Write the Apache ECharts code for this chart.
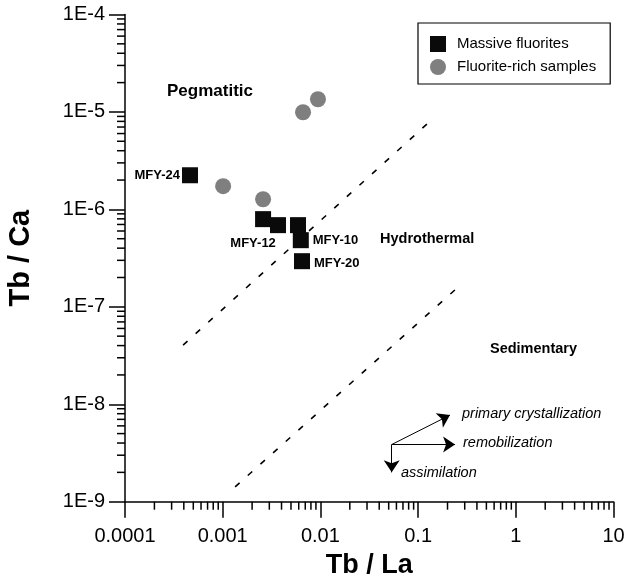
<!DOCTYPE html>
<html>
<head>
<meta charset="utf-8">
<script src="https://cdn.jsdelivr.net/npm/echarts@6/dist/echarts.min.js"></script>
<style>
  html, body { margin: 0; padding: 0; background: #fff; }
  #chart { width: 624px; height: 579px; }
</style>
</head>
<body>
<div id="chart"></div>
<script>
// axis limits and tick labels
const X_MIN = 0.0001, X_MAX = 10;
const Y_MIN = 1e-9, Y_MAX = 1e-4;
const xTickLabels = ['0.0001', '0.001', '0.01', '0.1', '1', '10'];
const yTickLabels = ['1E-9', '1E-8', '1E-7', '1E-6', '1E-5', '1E-4'];

// samples (Tb/La, Tb/Ca)
const massiveNames = ['MFY-24', 'MFY-12', '', '', 'MFY-10', 'MFY-20'];
const massiveX = [0.000463, 0.00259, 0.00368, 0.0059, 0.0063, 0.00648];
const massiveY = [2.24e-6, 7.94e-7, 6.89e-7, 6.89e-7, 4.83e-7, 2.94e-7];
const richX = [0.00101, 0.00259, 0.00664, 0.00944];
const richY = [1.73e-6, 1.27e-6, 9.93e-6, 1.35e-5];

// field boundaries (dashed)
const pegBoundary = [[3.93e-4, 4.05e-8], [0.126, 7.66e-6]];
const sedBoundary = [[1.34e-3, 1.42e-9], [0.256, 1.59e-7]];

// process arrows: origin, then tips
const arrowOrigin = [0.0537, 3.86e-9];
const arrowTips = [[0.212, 7.74e-9], [0.239, 3.86e-9], [0.0537, 2.0e-9]];

const FONT = '"Liberation Sans", Arial, sans-serif';

// minor ticks 2..9 within each decade
function minorTicks(lo, hi) {
  const out = [];
  for (let e = Math.round(Math.log10(lo)); e < Math.round(Math.log10(hi)); e++) {
    for (let k = 2; k <= 9; k++) out.push(k * Math.pow(10, e));
  }
  return out;
}
const xMinor = minorTicks(X_MIN, X_MAX);
const yMinor = minorTicks(Y_MIN, Y_MAX);

const labelPos = {
  'MFY-24': { position: 'left', distance: 2 },
  'MFY-12': { position: 'bottom', offset: [-10, 4], distance: 6 },
  'MFY-10': { position: 'right', distance: 4 },
  'MFY-20': { position: 'right', distance: 4, offset: [0, 2] }
};

const massiveData = massiveX.map((x, i) => {
  const name = massiveNames[i];
  const d = { value: [x, massiveY[i]], name: name };
  if (name) {
    d.label = Object.assign({ show: true, formatter: name }, labelPos[name]);
  }
  return d;
});
const richData = richX.map((x, i) => [x, richY[i]]);

const chart = echarts.init(document.getElementById('chart'));

const option = {
  animation: false,
  backgroundColor: '#fff',
  textStyle: { fontFamily: FONT },
  grid: { left: 125, right: 10.5, top: 14.5, bottom: 77.3, containLabel: false, outerBoundsMode: 'none' },
  legend: {
    orient: 'vertical',
    left: 418,
    top: 23,
    padding: [13, 14, 9, 12],
    itemGap: 7,
    itemWidth: 16,
    itemHeight: 16,
    borderColor: '#000',
    borderWidth: 1.2,
    textStyle: { fontSize: 15, color: '#000', fontFamily: FONT, padding: [0, 0, 0, 6] },
    data: [
      { name: 'Massive fluorites', icon: 'rect' },
      { name: 'Fluorite-rich samples', icon: 'circle' }
    ]
  },
  xAxis: {
    type: 'log',
    logBase: 10,
    min: X_MIN,
    max: X_MAX,
    name: 'Tb / La',
    nameLocation: 'middle',
    nameGap: 48,
    nameTextStyle: { fontSize: 27, fontWeight: 'bold', color: '#000', fontFamily: FONT },
    axisLine: { lineStyle: { color: '#000', width: 1.5 } },
    axisTick: { length: 16, lineStyle: { color: '#000', width: 1.5 } },
    axisLabel: {
      margin: 25, fontSize: 20, color: '#000', fontFamily: FONT,
      formatter: v => xTickLabels[Math.round(Math.log10(v)) + 4]
    },
    splitLine: { show: false }
  },
  yAxis: {
    type: 'log',
    logBase: 10,
    min: Y_MIN,
    max: Y_MAX,
    name: 'Tb / Ca',
    nameLocation: 'middle',
    nameGap: 90,
    nameTextStyle: { fontSize: 29, fontWeight: 'bold', color: '#000', fontFamily: FONT },
    axisLine: { lineStyle: { color: '#000', width: 1.5 } },
    axisTick: { length: 16, lineStyle: { color: '#000', width: 1.5 } },
    axisLabel: {
      margin: 20, fontSize: 20, color: '#000', fontFamily: FONT,
      formatter: v => yTickLabels[Math.round(Math.log10(v)) + 9]
    },
    splitLine: { show: false }
  },
  series: [
    {
      name: 'xMinor',
      type: 'custom',
      silent: true,
      data: xMinor.map(v => [v, Y_MIN]),
      renderItem: (params, api) => {
        const p = api.coord([api.value(0), api.value(1)]);
        return { type: 'line', shape: { x1: p[0], y1: p[1], x2: p[0], y2: p[1] + 8 },
          style: { stroke: '#000', lineWidth: 1.5 } };
      }
    },
    {
      name: 'yMinor',
      type: 'custom',
      silent: true,
      data: yMinor.map(v => [X_MIN, v]),
      renderItem: (params, api) => {
        const p = api.coord([api.value(0), api.value(1)]);
        return { type: 'line', shape: { x1: p[0] - 8, y1: p[1], x2: p[0], y2: p[1] },
          style: { stroke: '#000', lineWidth: 1.5 } };
      }
    },
    {
      name: 'pegBoundary',
      type: 'line',
      silent: true,
      symbol: 'none',
      data: pegBoundary,
      lineStyle: { color: '#000', width: 1.6, type: [6, 11] }
    },
    {
      name: 'sedBoundary',
      type: 'line',
      silent: true,
      symbol: 'none',
      data: sedBoundary,
      lineStyle: { color: '#000', width: 1.6, type: [6, 11] }
    },
    {
      name: 'arrows',
      type: 'line',
      silent: true,
      data: [],
      markLine: {
        silent: true,
        animation: false,
        symbol: ['none', 'arrow'],
        symbolSize: 12,
        label: { show: false },
        lineStyle: { color: '#000', width: 1, type: 'solid' },
        data: arrowTips.map(t => [{ coord: arrowOrigin }, { coord: t }])
      }
    },
    {
      name: 'Fluorite-rich samples',
      type: 'scatter',
      symbol: 'circle',
      symbolSize: 16,
      itemStyle: { color: '#7f7f7f', opacity: 1 },
      data: richData,
      z: 3
    },
    {
      name: 'Massive fluorites',
      type: 'scatter',
      symbol: 'rect',
      symbolSize: 16,
      itemStyle: { color: '#0a0a0a', opacity: 1 },
      label: { color: '#000', fontSize: 13, fontWeight: 'bold', fontFamily: FONT },
      data: massiveData,
      z: 4
    }
  ],
  graphic: [
    { type: 'text', left: 167, top: 83, style: { text: 'Pegmatitic', font: 'bold 17px ' + FONT, fill: '#000' } },
    { type: 'text', left: 380, top: 231, style: { text: 'Hydrothermal', font: 'bold 14.5px ' + FONT, fill: '#000' } },
    { type: 'text', left: 490, top: 341, style: { text: 'Sedimentary', font: 'bold 14.5px ' + FONT, fill: '#000' } },
    { type: 'text', left: 462, top: 406, style: { text: 'primary crystallization', font: 'italic 14.5px ' + FONT, fill: '#000' } },
    { type: 'text', left: 463, top: 435, style: { text: 'remobilization', font: 'italic 14.5px ' + FONT, fill: '#000' } },
    { type: 'text', left: 401, top: 465, style: { text: 'assimilation', font: 'italic 14.5px ' + FONT, fill: '#000' } }
  ]
};

chart.setOption(option);
</script>
</body>
</html>
